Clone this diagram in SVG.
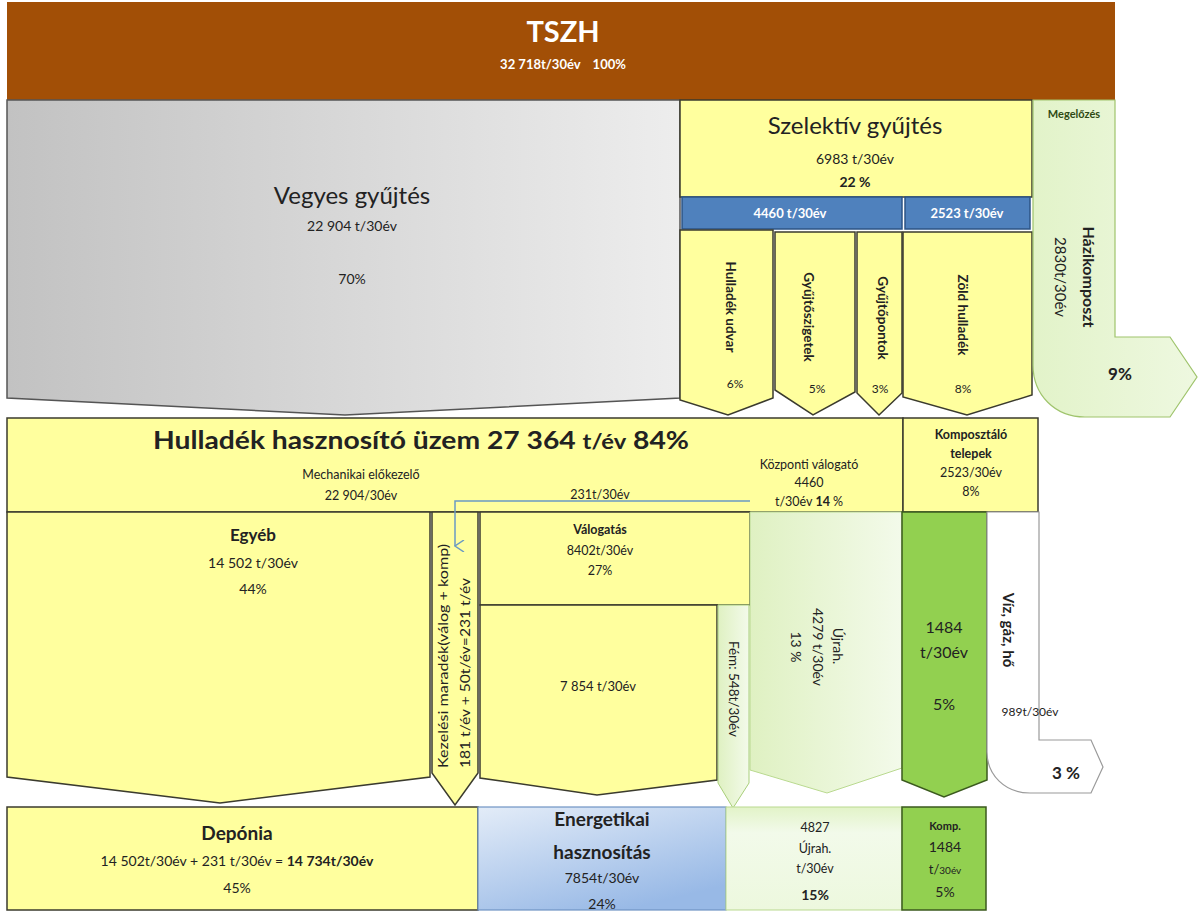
<svg xmlns="http://www.w3.org/2000/svg" width="1198" height="912" viewBox="0 0 1198 912">
<defs>
<linearGradient id="gGray" x1="0" y1="0" x2="1" y2="0"><stop offset="0" stop-color="#c2c2c2"/><stop offset="1" stop-color="#ededed"/></linearGradient>
<linearGradient id="gLight" x1="0" y1="0" x2="1" y2="0"><stop offset="0" stop-color="#dff1c2"/><stop offset="1" stop-color="#f3faea"/></linearGradient>
<linearGradient id="gHazi" x1="0" y1="0" x2="1" y2="0"><stop offset="0" stop-color="#e2f3c9"/><stop offset="1" stop-color="#eef8e0"/></linearGradient>
<linearGradient id="gBlue" x1="0" y1="0" x2="0.6" y2="1"><stop offset="0" stop-color="#e3ecf8"/><stop offset="1" stop-color="#98b9e6"/></linearGradient>
<linearGradient id="gUj" x1="0" y1="0" x2="0" y2="1"><stop offset="0" stop-color="#e2f3c8"/><stop offset="0.25" stop-color="#f2faea"/><stop offset="1" stop-color="#edf8de"/></linearGradient>
<marker id="arr" viewBox="0 0 12 12" refX="6" refY="11" markerWidth="12" markerHeight="12" markerUnits="userSpaceOnUse" orient="auto-start-reverse">
<path d="M0,2 L6,11 L12,2" fill="none" stroke="#6b9bc3" stroke-width="1.5"/>
</marker>
<style>
text{font-family:Lato,"Open Sans","Liberation Sans",sans-serif;fill:#222;text-anchor:middle}
.b{font-weight:bold}
.y{fill:#ffff9e;stroke:#3b3b2e;stroke-width:1.5}
.w{fill:#fff;font-weight:bold}
.bl{fill:#4f81bd;stroke:#2c5486;stroke-width:1.5}
.g{fill:#92d050;stroke:#3b5a1e;stroke-width:1.5}
.lg{fill:url(#gLight);stroke:#a9cf7a;stroke-width:1}
</style>
</defs>

<g id="tszh">
<rect x="7" y="2" width="1108" height="98" fill="#a24f06"/>
<text x="563" y="42" class="w" font-size="29">TSZH</text>
<text x="563" y="69" class="w" font-size="13">32 718t/30év<tspan dx="12">100%</tspan></text>
</g>

<g id="vegyes">
<path d="M7,100 H680 V398 L345,415 L7,398 Z" fill="url(#gGray)" stroke="#555" stroke-width="1.5"/>
<text x="352" y="204" font-size="24">Vegyes gyűjtés</text>
<text x="352" y="231" font-size="14">22 904 t/30év</text>
<text x="352" y="284" font-size="14">70%</text>
</g>

<g id="szelektiv">
<rect x="680" y="100" width="352" height="97" class="y"/>
<text x="855" y="134" font-size="24">Szelektív gyűjtés</text>
<text x="855" y="164" font-size="14">6983 t/30év</text>
<text x="855" y="187" font-size="14" class="b">22 %</text>
</g>

<g id="szel-4460">
<rect x="682" y="197" width="220" height="32" class="bl"/>
<text x="790" y="218" class="w" font-size="13">4460 t/30év</text>
</g>
<g id="szel-2523">
<rect x="905" y="197" width="125" height="32" class="bl"/>
<text x="967" y="218" class="w" font-size="13">2523 t/30év</text>
</g>

<g id="hulladek-udvar">
<path d="M680,230 H773 V398 L728,415 L680,400 Z" class="y"/>
<text transform="translate(726,307) rotate(90)" class="b" font-size="13.5">Hulladék udvar</text>
<text x="735" y="388" font-size="12">6%</text>
</g>
<g id="gyujtoszigetek">
<path d="M775,232 H855 V392 L813,415 L775,390 Z" class="y"/>
<text transform="translate(804,317) rotate(90)" class="b" font-size="13.5">Gyűjtőszigetek</text>
<text x="817" y="393" font-size="12">5%</text>
</g>
<g id="gyujtopontok">
<path d="M857,232 H902 V393 L879,415 L857,393 Z" class="y"/>
<text transform="translate(878,318) rotate(90)" class="b" font-size="13.5">Gyűjtőpontok</text>
<text x="880" y="393" font-size="12">3%</text>
</g>
<g id="zold-hulladek">
<path d="M903,232 H1032 V395 L967,415 L903,397 Z" class="y"/>
<text transform="translate(958,315) rotate(90)" class="b" font-size="13.5">Zöld hulladék</text>
<text x="963" y="393" font-size="12">8%</text>
</g>

<g id="hazikomposzt">
<path d="M1033,100 H1115 V337 H1170 L1197,377 L1170,417 H1085 C1055,417 1033,395 1033,365 Z" fill="url(#gHazi)" stroke="#9fc46c" stroke-width="1.2"/>
<text x="1074" y="118" class="b" font-size="11" style="fill:#2f4a14">Megelőzés</text>
<text transform="translate(1083,277) rotate(90)" class="b" font-size="16">Házikomposzt</text>
<text transform="translate(1055,277) rotate(90)" font-size="15">2830t/30év</text>
<text x="1120" y="380" class="b" font-size="17">9%</text>
</g>

<g id="hasznosito-uzem">
<rect x="7" y="418" width="896" height="94" class="y"/>
<text x="421" y="449" class="b" font-size="25" textLength="536" lengthAdjust="spacingAndGlyphs">Hulladék hasznosító üzem 27 364 <tspan font-size="21">t/év</tspan>  84%</text>
<text x="361" y="479" font-size="12.5">Mechanikai előkezelő</text>
<text x="361" y="500" font-size="12.5">22 904/30év</text>
<text x="600" y="499" font-size="12.5">231t/30év</text>
<text x="809" y="469" font-size="12.5">Központi válogató</text>
<text x="809" y="487" font-size="12.5">4460</text>
<text x="809" y="506" font-size="12.5">t/30év <tspan class="b">14 </tspan>%</text>
</g>

<g id="komposztalo">
<rect x="903" y="418" width="135" height="94" class="y"/>
<text x="971" y="439" class="b" font-size="12.5">Komposztáló</text>
<text x="971" y="458" class="b" font-size="12.5">telepek</text>
<text x="971" y="477" font-size="12.5">2523/30év</text>
<text x="971" y="496" font-size="12.5">8%</text>
</g>

<g id="egyeb">
<path d="M7,512 H430 V777 L220,803 L7,777 Z" class="y"/>
<text x="253" y="541" class="b" font-size="17">Egyéb</text>
<text x="253" y="568" font-size="14">14 502 t/30év</text>
<text x="253" y="594" font-size="14">44%</text>
</g>

<g id="kezelesi-maradek">
<path d="M432,512 H478 V773 L455,805 L432,773 Z" class="y"/>
<text transform="translate(448,768) rotate(-90)" font-size="13" style="text-anchor:start" textLength="224" lengthAdjust="spacingAndGlyphs">Kezelési maradék(válog + komp)</text>
<text transform="translate(470,768) rotate(-90)" font-size="13" style="text-anchor:start" textLength="190" lengthAdjust="spacingAndGlyphs">181 t/év + 50t/év=231 t/év</text>
</g>

<g id="valogatas">
<rect x="480" y="512" width="270" height="93" class="y"/>
<text x="600" y="534" class="b" font-size="12.5">Válogatás</text>
<text x="600" y="555" font-size="12.5">8402t/30év</text>
<text x="600" y="575" font-size="12.5">27%</text>
</g>

<g id="energetikai-arrow">
<path d="M480,605 H717 V780 L597,795 L480,778 Z" class="y"/>
<text x="598" y="691" font-size="13">7 854 t/30év</text>
</g>

<g id="fem">
<path d="M718,605 H749 V783 L733,808 L718,783 Z" class="lg"/>
<text transform="translate(729,689) rotate(90)" font-size="13.5">Fém: 548t/30év</text>
</g>

<g id="ujrah-arrow">
<path d="M750,512 H902 V768 L827,793 L750,770 Z" fill="url(#gLight)" stroke="#b9d98f" stroke-width="1"/>
<text transform="translate(833,646) rotate(90)" font-size="14">Újrah.</text>
<text transform="translate(813,647) rotate(90)" font-size="14">4279 t/30év</text>
<text transform="translate(791,647) rotate(90)" font-size="14">13 %</text>
</g>

<g id="komp-arrow">
<path d="M902,512 H987 V780 L944,797 L902,780 Z" class="g"/>
<text x="944" y="633" font-size="16">1484</text>
<text x="944" y="658" font-size="16">t/30év</text>
<text x="944" y="710" font-size="16">5%</text>
</g>

<g id="viz-gaz-ho">
<path d="M987,512 H1039 V740 H1091 L1103,767 L1091,793 H1030 C1005,793 987,775 987,752 Z" fill="#fff" stroke="#9a9a9a" stroke-width="1.2"/>
<text transform="translate(1003,630) rotate(90)" class="b" font-size="15">Víz, gáz, hő</text>
<text x="1030" y="716" font-size="12">989t/30év</text>
<text x="1066" y="779" class="b" font-size="17">3 %</text>
</g>

<g id="connectors">
<polyline points="750,501 455,501 455,546" fill="none" stroke="#6b9bc3" stroke-width="1.5" marker-end="url(#arr)"/>
</g>

<g id="deponia">
<rect x="7" y="807" width="471" height="103" class="y"/>
<text x="237" y="840" class="b" font-size="19">Depónia</text>
<text x="237" y="866" font-size="14">14 502t/30év + 231 t/30év = <tspan class="b">14 734t/30év</tspan></text>
<text x="237" y="893" font-size="14">45%</text>
</g>

<g id="energetikai">
<rect x="478" y="807" width="248" height="103" fill="url(#gBlue)" stroke="#6f93c4" stroke-width="1.2"/>
<text x="602" y="826" class="b" font-size="19">Energetikai</text>
<text x="602" y="859" class="b" font-size="19">hasznosítás</text>
<text x="602" y="883" font-size="14">7854t/30év</text>
<text x="602" y="909" font-size="14">24%</text>
</g>

<g id="ujrah">
<rect x="726" y="807" width="176" height="103" fill="url(#gUj)" stroke="#b9d98f" stroke-width="1"/>
<text x="815" y="832" font-size="12.5">4827</text>
<text x="815" y="853" font-size="12.5">Újrah.</text>
<text x="815" y="873" font-size="12.5">t/30év</text>
<text x="815" y="900" class="b" font-size="14">15%</text>
</g>

<g id="komp">
<rect x="902" y="807" width="84" height="103" class="g"/>
<text x="945" y="830" class="b" font-size="11">Komp.</text>
<text x="945" y="852" font-size="14">1484</text>
<text x="945" y="874" font-size="13">t/<tspan font-size="10">30év</tspan></text>
<text x="945" y="897" font-size="14">5%</text>
</g>
</svg>
